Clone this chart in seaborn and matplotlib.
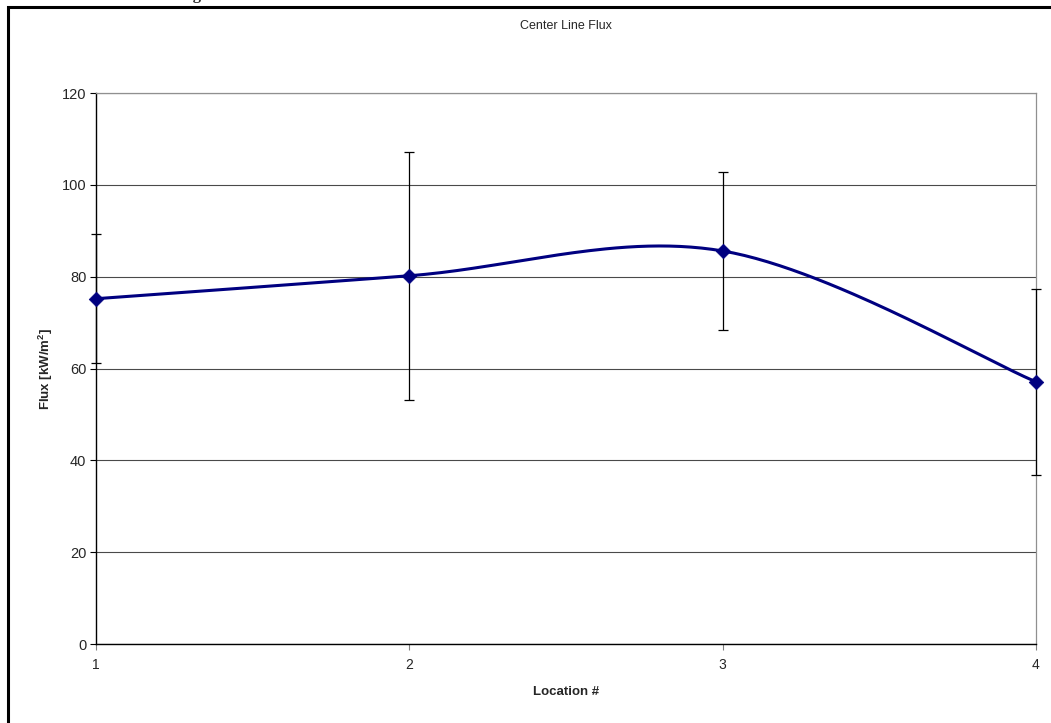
import numpy as np
import pandas as pd
import matplotlib
matplotlib.use("Agg")
import matplotlib.pyplot as plt
from matplotlib.patches import Rectangle
import seaborn as sns

# Measured center-line flux at each location, with error half-widths
locations = [1, 2, 3, 4]
flux = [75.2, 80.2, 85.6, 57.1]
flux_err = [14.0, 27.0, 17.3, 20.3]
y_ticks = [0, 20, 40, 60, 80, 100, 120]

sns.set_theme(style="white")
plt.rcParams["font.family"] = ["Liberation Sans", "DejaVu Sans"]

fig = plt.figure(figsize=(10.51, 7.23), dpi=100)
ax = fig.add_axes([96 / 1051, 1 - 644 / 723, (1036 - 96) / 1051, (644 - 93) / 723])

# Smoothed connecting line (cardinal spline through the measured points)
def smooth(xs, ys, n=60):
    xs = np.asarray(xs, float)
    ys = np.asarray(ys, float)
    px = np.concatenate([[xs[0]], xs, [xs[-1]]])
    py = np.concatenate([[ys[0]], ys, [ys[-1]]])
    out_x, out_y = [], []
    for i in range(1, len(px) - 2):
        t = np.linspace(0, 1, n)
        h00 = 2 * t**3 - 3 * t**2 + 1
        h10 = t**3 - 2 * t**2 + t
        h01 = -2 * t**3 + 3 * t**2
        h11 = t**3 - t**2
        mx0 = (px[i + 1] - px[i - 1]) / 2
        mx1 = (px[i + 2] - px[i]) / 2
        my0 = (py[i + 1] - py[i - 1]) / 2
        my1 = (py[i + 2] - py[i]) / 2
        out_x.append(h00 * px[i] + h10 * mx0 + h01 * px[i + 1] + h11 * mx1)
        out_y.append(h00 * py[i] + h10 * my0 + h01 * py[i + 1] + h11 * my1)
    return np.concatenate(out_x), np.concatenate(out_y)

sx, sy = smooth(locations, flux)
curve = pd.DataFrame({"Location": sx, "Flux": sy})
points = pd.DataFrame({"Location": locations, "Flux": flux})

navy = "#000080"
ax.errorbar(locations, flux, yerr=flux_err, fmt="none", ecolor="black",
            elinewidth=0.9, capsize=3.8, capthick=0.9, zorder=3, clip_on=False)
sns.lineplot(data=curve, x="Location", y="Flux", sort=False, estimator=None,
             color=navy, linewidth=2.2, ax=ax, zorder=4, clip_on=False)
sns.scatterplot(data=points, x="Location", y="Flux", marker="D", s=55,
                color=navy, edgecolor=navy, linewidth=0.5, ax=ax, zorder=5,
                clip_on=False)

ax.set_xlim(1, 4)
ax.set_ylim(0, 120)
ax.set_xticks(locations)
ax.set_yticks(y_ticks)
ax.set_xticklabels([str(v) for v in locations], fontsize=10)
ax.set_yticklabels([str(v) for v in y_ticks], fontsize=10.5)
ax.yaxis.grid(True, color="#4a4a4a", linewidth=0.8)
ax.xaxis.grid(False)
ax.set_axisbelow(True)

ax.tick_params(axis="y", direction="out", length=4, width=0.8, color="black",
               left=True, pad=3)
ax.tick_params(axis="x", direction="out", length=4, width=0.8, color="#808080",
               bottom=True, pad=6)

for side in ["left", "bottom"]:
    ax.spines[side].set_color("black")
    ax.spines[side].set_linewidth(1.0)
for side in ["top", "right"]:
    ax.spines[side].set_color("#909090")
    ax.spines[side].set_linewidth(0.9)

ax.set_xlabel("Location #", fontsize=9.5, fontweight="bold", labelpad=10)
ax.set_ylabel("Flux [kW/m$^\\mathregular{2}$]", fontsize=9.5, fontweight="bold",
              labelpad=5)
ax.set_title("Center Line Flux", fontsize=9, pad=46)

# Page frame and caption above the chart
fig.patches.append(Rectangle((7.5 / 1051, -0.1), 1.2, 1 - 7.5 / 723 + 0.1,
                             transform=fig.transFigure, fill=False,
                             edgecolor="black", linewidth=2.2, zorder=10))
fig.text(178 / 1051, 1 + 1 / 723,
         "Figure 5. Center Line Flux at Each Location with Standard Deviation Error Bars",
         family=["Liberation Serif", "DejaVu Serif"], fontsize=12,
         fontweight="bold", va="baseline", ha="left")

fig.savefig("out.png", dpi=100)
